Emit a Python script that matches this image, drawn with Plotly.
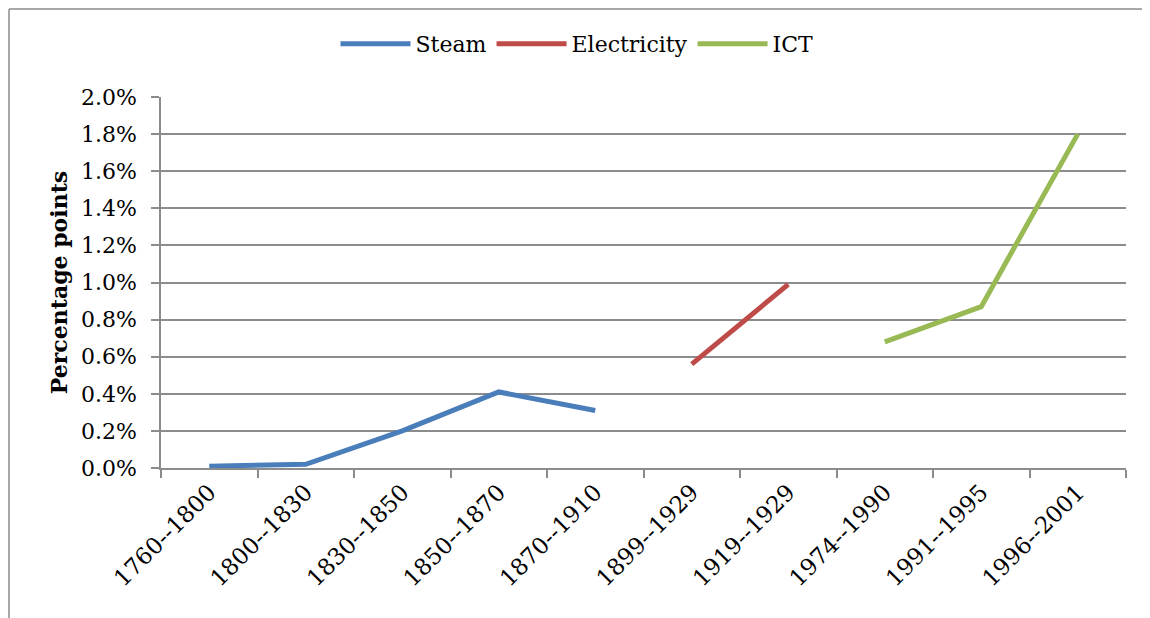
import plotly.graph_objects as go

categories = ["1760--1800", "1800--1830", "1830--1850", "1850--1870", "1870--1910",
              "1899--1929", "1919--1929", "1974--1990", "1991--1995", "1996--2001"]
steam = [0.0001, 0.0002, 0.0020, 0.0041, 0.0031, None, None, None, None, None]
electricity = [None, None, None, None, None, 0.0056, 0.0099, None, None, None]
ict = [None, None, None, None, None, None, None, 0.0068, 0.0087, 0.0180]
series_names = ["Steam", "Electricity", "ICT"]
colors = ["#4A7EBB", "#BE4B48", "#98B954"]
y_ticks = [0.0, 0.002, 0.004, 0.006, 0.008, 0.010, 0.012, 0.014, 0.016, 0.018, 0.020]

FONT = "DejaVu Serif"
fig = go.Figure()
for name, vals, col in zip(series_names, [steam, electricity, ict], colors):
    fig.add_trace(go.Scatter(x=categories, y=vals, name=name, mode="lines",
                             line=dict(color=col, width=5), connectgaps=False))

grid = "#8C8C8C"
W, H = 1142, 610
L, R, T, B = 153, 24, 89, 150
pw, ph = W - L - R, H - T - B
fig.update_layout(
    width=W, height=H,
    margin=dict(l=L, r=R, t=T, b=B, autoexpand=False),
    paper_bgcolor="white", plot_bgcolor="white",
    font=dict(family=FONT, size=22, color="black"),
    showlegend=True,
    legend=dict(orientation="h", x=(W / 2 - 2 - L) / pw, xanchor="center",
                y=1 + (T - 36) / ph, yanchor="middle",
                font=dict(family=FONT, size=22), itemwidth=70),
    xaxis=dict(type="category", categoryorder="array", categoryarray=categories,
               range=[-0.5, 9.5], tickson="boundaries", ticks="outside", ticklen=8,
               tickcolor=grid, tickwidth=1.5, showline=True, linecolor=grid, linewidth=1.5,
               showgrid=False, tickangle=-45, tickfont=dict(family=FONT, size=23)),
    yaxis=dict(range=[0, 0.02], tickvals=y_ticks, tickformat=".1%", ticks="outside",
               ticklen=8, tickcolor=grid, tickwidth=1.5, showline=True, linecolor=grid,
               linewidth=1.5, showgrid=True, gridcolor=grid, gridwidth=1.5, zeroline=False,
               tickfont=dict(family=FONT, size=22), ticklabelstandoff=10,
               title=dict(text="<b>Percentage points</b>", font=dict(family=FONT, size=22),
                          standoff=7)),
    shapes=[
        dict(type="line", xref="paper", yref="paper", x0=(1 - L) / pw, x1=(W - L) / pw,
             y0=1 + (T - 1) / ph, y1=1 + (T - 1) / ph, line=dict(color="#8C8C8C", width=1.5)),
        dict(type="line", xref="paper", yref="paper", x0=(1 - L) / pw, x1=(1 - L) / pw,
             y0=1 + (T - 1) / ph, y1=-(B + 5) / ph, line=dict(color="#8C8C8C", width=1.5)),
    ],
)
fig.write_html("out.html")
